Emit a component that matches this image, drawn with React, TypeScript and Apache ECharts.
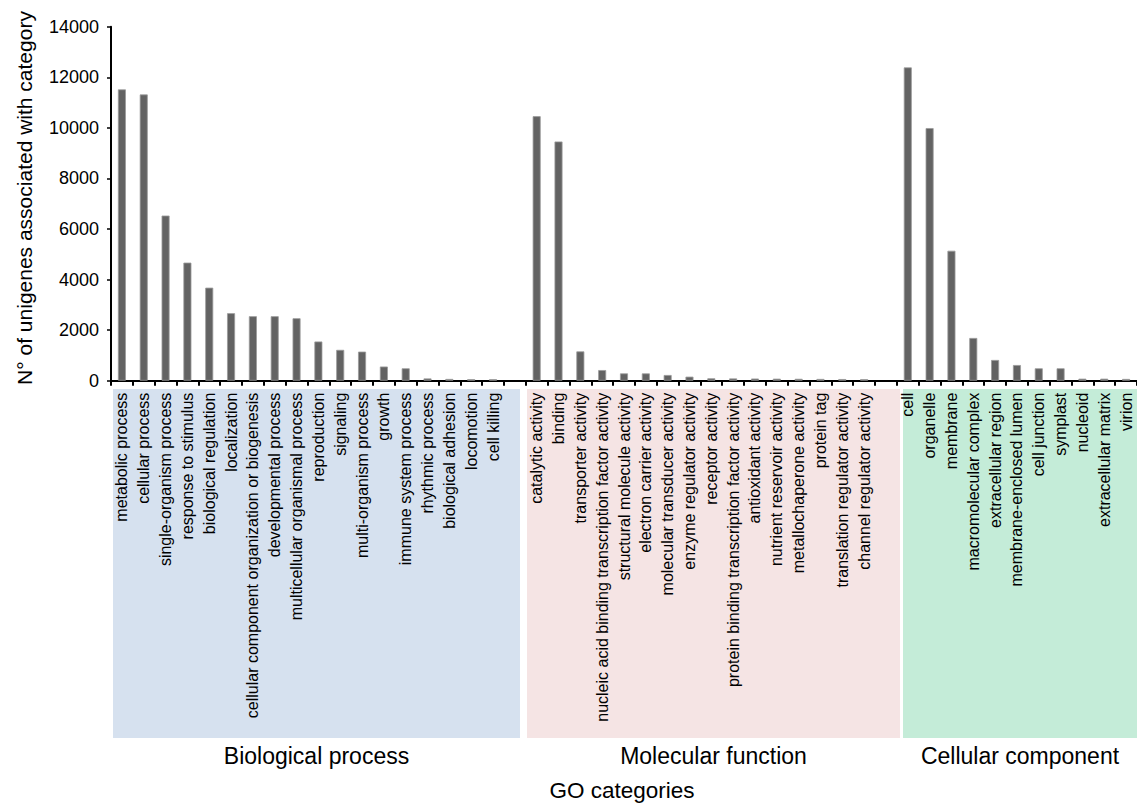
import React, { useEffect, useRef } from "react";
import * as echarts from "echarts";

const bpNames = [
  "metabolic process", "cellular process", "single-organism process", "response to stimulus",
  "biological regulation", "localization", "cellular component organization or biogenesis",
  "developmental process", "multicellular organismal process", "reproduction", "signaling",
  "multi-organism process", "growth", "immune system process", "rhythmic process",
  "biological adhesion", "locomotion", "cell killing",
];
const bpValues = [11520, 11320, 6530, 4670, 3680, 2670, 2550, 2550, 2470, 1550, 1220, 1150, 560, 490, 90, 70, 60, 60];

const mfNames = [
  "catalytic activity", "binding", "transporter activity",
  "nucleic acid binding transcription factor activity", "structural molecule activity",
  "electron carrier activity", "molecular transducer activity", "enzyme regulator activity",
  "receptor activity", "protein binding transcription factor activity", "antioxidant activity",
  "nutrient reservoir activity", "metallochaperone activity", "protein tag",
  "translation regulator activity", "channel regulator activity",
];
const mfValues = [10460, 9460, 1160, 420, 290, 290, 225, 160, 95, 90, 85, 80, 75, 70, 65, 60];

const ccNames = [
  "cell", "organelle", "membrane", "macromolecular complex", "extracellular region",
  "membrane-enclosed lumen", "cell junction", "symplast", "nucleoid", "extracellular matrix", "virion",
];
const ccValues = [12390, 9990, 5140, 1690, 820, 620, 490, 490, 80, 80, 70];

const groupNames = ["Biological process", "Molecular function", "Cellular component"];
const yTicks = { min: 0, max: 14000, interval: 2000 };
const yTitle = "N\u00b0 of unigenes associated with category";
const xTitle = "GO categories";

const FONT = "'Liberation Sans', Arial, Helvetica, sans-serif";

export default function App() {
  const ref = useRef<HTMLDivElement>(null);
  useEffect(() => {
    if (!ref.current) return;
    const chart = echarts.init(ref.current, null, { renderer: "svg" });
    const categories = [...bpNames, " ", ...mfNames, "  ", ...ccNames];
    const values = [...bpValues, null, ...mfValues, null, ...ccValues];

    const panels = [
      { x: 113, w: 407, color: "#d6e1ef", label: groupNames[0] },
      { x: 527, w: 373, color: "#f5e4e4", label: groupNames[1] },
      { x: 903, w: 240, color: "#c4ecd8", label: groupNames[2] },
    ];
    const panelTop = 389;
    const panelBottom = 738;

    const graphic: any[] = [];
    panels.forEach((p) => {
      graphic.push({
        type: "rect",
        z: -10,
        silent: true,
        shape: { x: p.x, y: panelTop, width: p.w, height: panelBottom - panelTop },
        style: { fill: p.color },
      });
      graphic.push({
        type: "text",
        z: 10,
        x: p.x + Math.min(p.w, 1137 - p.x) / 2,
        y: 756,
        style: {
          text: p.label,
          fontSize: 23,
          fontFamily: FONT,
          fill: "#000",
          textAlign: "center",
          textVerticalAlign: "middle",
        },
      });
    });
    graphic.push({
      type: "text",
      x: 622,
      y: 790,
      style: {
        text: xTitle,
        fontSize: 22.5,
        fontFamily: FONT,
        fill: "#000",
        textAlign: "center",
        textVerticalAlign: "middle",
      },
    });
    graphic.push({
      type: "text",
      x: 24,
      y: 198,
      rotation: Math.PI / 2,
      style: {
        text: yTitle,
        fontSize: 21,
        fontFamily: FONT,
        fill: "#000",
        textAlign: "center",
        textVerticalAlign: "middle",
      },
    });

    chart.setOption({
      animation: false,
      backgroundColor: "#fff",
      grid: { left: 111, top: 26.7, height: 354, width: 1030.7, containLabel: false },
      xAxis: {
        type: "category",
        data: categories,
        boundaryGap: true,
        axisLine: { lineStyle: { color: "#000", width: 2 } },
        axisTick: { show: true, length: 5, lineStyle: { color: "#000", width: 2 }, alignWithLabel: false, interval: 0 },
        axisLabel: {
          interval: 0,
          rotate: 90,
          margin: 12,
          fontSize: 16,
          fontFamily: FONT,
          color: "#000",
        },
        splitLine: { show: false },
      },
      yAxis: {
        type: "value",
        min: yTicks.min,
        max: yTicks.max,
        interval: yTicks.interval,
        axisLine: { show: true, lineStyle: { color: "#000", width: 2 } },
        axisTick: { show: true, length: 4, lineStyle: { color: "#000", width: 1.5 } },
        axisLabel: {
          fontSize: 18,
          fontFamily: FONT,
          color: "#000",
          margin: 12,
          formatter: (v: number) => String(v),
        },
        splitLine: { show: false },
      },
      graphic,
      series: [
        {
          type: "bar",
          data: values,
          barWidth: 8,
          itemStyle: { color: "#636363", borderColor: "#9a9a9a", borderWidth: 0.8 },
        },
      ],
    });
    return () => chart.dispose();
  }, []);
  return (
    <div
      ref={ref}
      style={{ position: "fixed", left: 0, top: 0, width: 1137, height: 805, background: "#fff" }}
    />
  );
}
